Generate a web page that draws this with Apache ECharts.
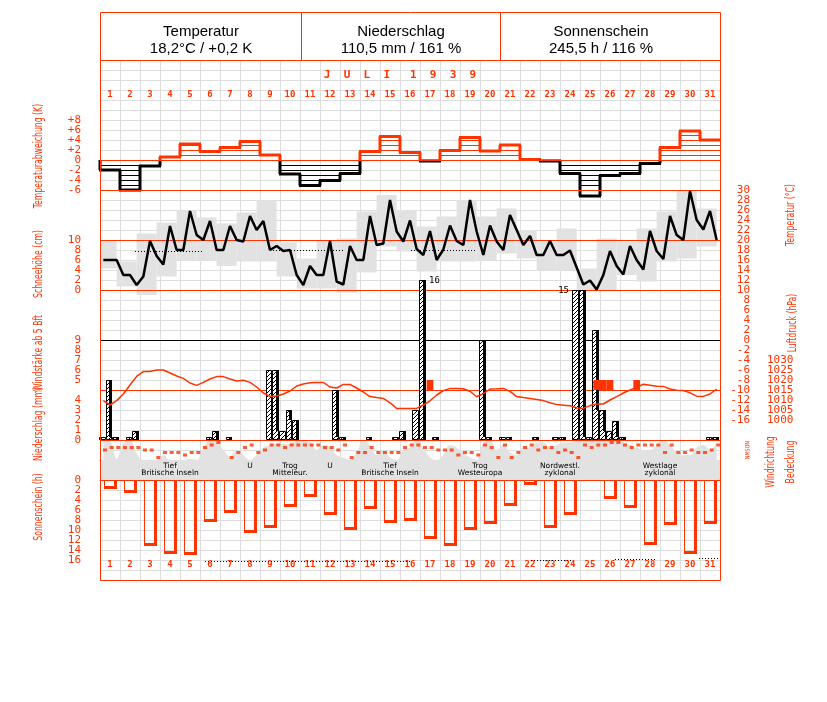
<!DOCTYPE html>
<html><head><meta charset="utf-8">
<script src="https://cdn.jsdelivr.net/npm/echarts@6/dist/echarts.min.js"></script>
<style>html,body{margin:0;padding:0;background:#fff}#c{width:827px;height:702px}</style>
</head><body><div id="c"></div>
<script>
// ---------------- DATA ----------------
const days = ['1','2','3','4','5','6','7','8','9','10','11','12','13','14','15','16','17','18','19','20','21','22','23','24','25','26','27','28','29','30','31'];
const headerTitles = ['Temperatur', 'Niederschlag', 'Sonnenschein'];
const headerValues = ['18,2°C / +0,2 K', '110,5 mm / 161 %', '245,5 h / 116 %'];
const monthLabel = 'J  U  L  I   1  9  3  9';

// daily temperature deviation (K)
const tempDeviation = [-2.0,-6.0,-1.2,0.6,3.2,1.7,2.5,3.7,1.0,-2.8,-5.1,-4.1,-2.7,1.7,4.7,1.5,-0.2,1.9,4.5,1.8,3.0,0.1,-0.2,-2.7,-7.2,-3.1,-2.7,-0.7,2.5,5.8,4.0];

// temperature at 3 observation times per day (°C)
const tempObs = [16,16,16, 13,13,11, 12.7,19.8,16.8, 15.1,22.8,18, 18,25.8,21, 20,23.8,18, 18,22.8,20, 19.7,24.8,22,
 23.8,18,18.8, 17.8,18,13, 11,14.8,13, 13,19.8,11.7, 11.1,18.8,16, 16,24.8,19, 19.3,28,21.7, 19.7,23.9,18.2,
 17,21.8,16, 18.1,22.9,19.8, 19,28,21.7, 17,22.9,19.7, 18,25,22, 19,20.8,17, 17,19.8,17, 17,17.9,14.5,
 11.1,11.9,10.1, 13,17.8,14.8, 13.1,18.8,16, 14.1,21.8,17.8, 16.2,24.8,21, 20,29.8,24, 22.1,25.8,20];
const tempMax = [20,15.7,21.3,23.5,25.9,24.5,23.3,25.5,27.9,19.5,16.3,20,20.3,25.7,29,26,22.7,24.7,28,24.7,26.3,22,19.7,22.3,14.3,20.3,19.7,22.3,25.7,30,26.3];
const tempMin = [14.3,10.7,9,12.7,15.9,15.9,14.8,15.7,15.7,12.7,10.3,10.3,9.5,13.5,18.7,17.7,13.7,15.7,15.7,16,17.3,16.3,14,14,10,10,13,11.7,15.7,16.3,18.7];
const tempRefStart = [1.75, 8.65, 15.55];
const tempRefEnd = [5.15, 12.15, 18.85];
const tempRefVal = [17.8, 18.0, 18.1];

// air pressure (hPa), 3 per day
const pressure = [1009.7,1007.5,1009.7,1013,1017.5,1021.8,1024.2,1024.3,1025,1025,
 1023.5,1022,1020.8,1018.5,1017.3,1018.8,1020.5,1021.7,1021.7,1020.5,
 1019.5,1019.9,1018.8,1016.5,1013.5,1011.8,1012,1013,1014.5,1017,
 1018,1018.6,1018.8,1018.8,1016.5,1016,1017.8,1017.8,1016,1014,
 1011.7,1011.2,1010.8,1008.6,1005.8,1005.8,1005.8,1005.8,1007.5,1009.6,
 1012.5,1014.7,1015.8,1015.8,1015.6,1014.4,1011.6,1013.2,1015.5,1015.6,
 1015.8,1014.3,1011.7,1011.2,1010.8,1010.3,1009.7,1008.6,1007.7,1007.4,
 1007.1,1006,1005.8,1007.2,1008,1008,1010,1011.7,1013.5,1015,
 1016.3,1017.9,1017.4,1016.9,1016.8,1015.5,1014.9,1014.7,1013.6,1011.9,
 1011.8,1013,1015.5];

// precipitation (mm), 3 per day
const precip = [0.3,6,0.3,0,0.3,0.9,0,0,0,0,
 0,0,0,0,0,0,0.3,0.9,0,0.3,
 0,0,0,0,0,7,7,0.9,3,2,
 0,0,0,0,0,5,0.3,0,0,0,
 0.3,0,0,0,0.3,0.9,0,3,16,0,
 0.3,0,0,0,0,0,0,10,0.3,0,
 0.3,0.3,0,0,0,0.3,0,0,0.3,0.3,
 0,15,15,0.3,11,3,0.9,1.9,0.3,0,
 0,0,0,0,0,0,0,0,0,0,
 0,0.3,0.3];
const precipNoteSlot = [48, 71];
const precipNoteText = ['16', '15'];
const precipNoteSide = ['right', 'left'];

// wind force >= 5 Bft
const windSlot = [49, 74, 75, 76, 80];
const windBft = [5, 5, 5, 5, 5];

// wind direction (degrees), 3 per day
const windDir = [180,225,225,225,225,225,180,180,45,135,135,135,90,135,135,225,270,315,null,45,
 135,225,270,135,180,270,270,225,270,270,270,270,270,225,225,180,270,45,135,135,
 225,135,135,135,135,225,270,270,225,225,180,180,180,90,135,135,90,270,225,45,
 270,45,135,225,270,180,225,225,135,180,135,45,270,225,270,270,315,315,270,225,
 270,270,270,270,135,270,135,135,180,135,135,180,270];

// cloud cover (octas), 3 per day
const cloud = [8,7.5,0.5,7,8,2.5,0,0,0,2,0,0,0,0.5,0,5,8,7.5,4,1.5,4,2,0,2,5,6,6.5,6.5,6.5,7.5,7.5,7,
 4,6,5,2,1,0,3,8,6,2,4,1,0,4,5,8,5,1,0,2,6,5,3,1,0,7,8,4,6,3,2,
 5,5,7,7,5,6,7,7,8,8,8,8,8,8,8,7,6,5,4,4,6,8,6,3,2,2,5,6,4,7];

// sunshine (h)
const sunshine = [1.7,2.5,13.2,14.7,14.9,8.3,6.5,10.5,9.5,5.3,3.3,6.9,10.0,5.7,8.5,8.2,11.7,13.1,9.9,8.7,5.2,0.9,9.5,6.9,0,3.7,5.5,13.0,8.9,14.8,8.7];
const sunMaxStart = [5.25, 21.55, 25.75, 29.95];
const sunMaxEnd = [15.5, 23.6, 27.8, 31];
const sunMaxVal = [16.2, 16.0, 15.8, 15.6];

// weather situations
const wxNames = ['Tief\nBritische Inseln','U\n ','Trog\nMitteleur.','U\n ','Tief\nBritische Inseln','Trog\nWesteuropa','Nordwestl.\nzyklonal','Westlage\nzyklonal'];
const wxFrom = [0, 7, 8, 11, 12, 17, 21, 25];
const wxTo = [7, 8, 11, 12, 17, 21, 25, 31];

// ---------------- STYLE ----------------
const RED = '#ff3300';
const GRIDC = '#dedede';
const GRAY = '#e2e2e2';
const MONO = "'DejaVu Sans Mono', monospace";
const NARROW = "'DejaVu Sans Condensed','DejaVu Sans',sans-serif";

const slotX = k => (k + 0.5) / 3;

function makeHatch(){
  const c = document.createElement('canvas'); c.width = 4; c.height = 4;
  const g = c.getContext('2d'); g.fillStyle = '#fff'; g.fillRect(0,0,4,4);
  g.fillStyle = '#000'; for (let i = 0; i < 4; i++) g.fillRect(3 - i, i, 1, 1);
  return c;
}
const hatch = { image: makeHatch(), repeat: 'repeat' };

function grid(top, height){ return { left: 100, width: 620, top: top, height: height }; }
function xAx(gi, o){ return Object.assign({ type: 'value', gridIndex: gi, min: 0, max: 31, axisLine: { show: false, onZero: false }, axisTick: { show: false }, axisLabel: { show: false }, splitLine: { show: false } }, o || {}); }
function yAx(gi, o){ return Object.assign({ type: 'value', gridIndex: gi, axisLine: { show: false, onZero: false }, axisTick: { show: false }, axisLabel: { show: false }, splitLine: { show: false } }, o || {}); }
// padded axes: the extreme (padding) labels are hidden, all real ticks are shown
function lbl(o){ return Object.assign({ show: true, color: RED, fontFamily: MONO, fontSize: 11, showMinLabel: false, showMaxLabel: false, hideOverlap: false }, o || {}); }

const chart = echarts.init(document.getElementById('c'));

function txt(text, x, y, font, fill, rot, extra){
  return Object.assign({ type: 'text', x: x, y: y, rotation: rot || 0, z: 100,
    style: { text: text, x: 0, y: 0, font: font, fill: fill, align: 'center', verticalAlign: 'middle', textAlign: 'center', textVerticalAlign: 'middle' } }, extra || {});
}
const TF = "13px " + NARROW;
const SQ = { scaleX: 0.66 };

const graphics = [
  { type: 'rect', z: 100, shape: { x: 100.5, y: 12.5, width: 620, height: 568 }, style: { fill: null, stroke: RED, lineWidth: 1 } },
  { type: 'line', z: 100, shape: { x1: 100, y1: 60.5, x2: 720, y2: 60.5 }, style: { stroke: RED, lineWidth: 1 } },
  { type: 'line', z: 100, shape: { x1: 301.5, y1: 12, x2: 301.5, y2: 60 }, style: { stroke: RED, lineWidth: 1 } },
  { type: 'line', z: 100, shape: { x1: 500.5, y1: 12, x2: 500.5, y2: 60 }, style: { stroke: RED, lineWidth: 1 } },
  txt(monthLabel, 400, 75, "bold 11px 'DejaVu Sans Mono', monospace", RED, 0),
  txt('Temperaturabweichung (K)', 39, 156, TF, RED, Math.PI/2, SQ),
  txt('Schneehöhe (cm)', 39, 264, TF, RED, Math.PI/2, SQ),
  txt('Windstärke ab 5 Bft', 39, 353, TF, RED, Math.PI/2, SQ),
  txt('Niederschlag (mm)', 39, 424, TF, RED, Math.PI/2, SQ),
  txt('Sonnenschein (h)', 39, 507, TF, RED, Math.PI/2, SQ),
  txt('Temperatur (°C)', 791, 215, TF, RED, Math.PI/2, SQ),
  txt('Luftdruck (hPa)', 793, 323, TF, RED, Math.PI/2, SQ),
  txt('Windrichtung', 771, 462, TF, RED, Math.PI/2, SQ),
  txt('Bedeckung', 791, 462, TF, RED, Math.PI/2, SQ),
  txt('NOSWN', 747, 450, "6px 'DejaVu Sans Mono', monospace", RED, -Math.PI/2)
];
const hdrX = [201, 401, 601];
headerTitles.forEach((t, i) => {
  graphics.push(txt(t, hdrX[i], 32, "15px 'Liberation Sans', Arial, sans-serif", '#000', 0));
  graphics.push(txt(headerValues[i], hdrX[i], 49, "15px 'Liberation Sans', Arial, sans-serif", '#000', 0));
});

const refLine = (xi, yi, items) => ({
  type: 'line', xAxisIndex: xi, yAxisIndex: yi, data: [], z: 3, silent: true,
  markLine: { silent: true, symbol: ['none','none'], label: { show: false }, animation: false,
    lineStyle: { color: RED, width: 1, type: 'solid' }, data: items }
});
const dayLabel = { interval: 0, margin: 5, verticalAlign: 'middle', color: RED, fontFamily: MONO, fontSize: 9, fontWeight: 'bold' };

const option = {
  animation: false,
  graphic: graphics,
  grid: [
    grid(60,520),   // 0 background grid
    grid(110,90),   // 1 deviation  (-8..10)
    grid(230,70),   // 2 snow       (-2..12)
    grid(180,250),  // 3 temperature (-18..32)
    grid(350,80),   // 4 pressure   (995..1035)
    grid(330,60),   // 5 wind force (4..10)
    grid(270,180),  // 6 precipitation (-1..17)
    grid(440,20),   // 7 wind direction
    grid(440,20),   // 8 cloud cover
    grid(460,20),   // 9 weather situation
    grid(470,100),  // 10 sunshine (-2..18, inverse)
    grid(80,10),    // 11 top day labels
    grid(550,10)    // 12 bottom day labels
  ],
  xAxis: [
    xAx(0, { interval: 1, splitLine: { show: true, lineStyle: { color: GRIDC, width: 1 } } }),
    xAx(1), xAx(2), xAx(3), xAx(4), xAx(5), xAx(6),
    xAx(7, { axisLine: { show: true, onZero: false, lineStyle: { color: RED, width: 1 } } }),
    xAx(8),
    xAx(9, { axisLine: { show: true, onZero: false, lineStyle: { color: RED, width: 1 } } }),
    xAx(10),
    { type: 'category', gridIndex: 11, data: days, position: 'bottom', axisLine: { show: false, onZero: false }, axisTick: { show: false }, splitLine: { show: false }, axisLabel: dayLabel },
    { type: 'category', gridIndex: 12, data: days, position: 'bottom', axisLine: { show: false, onZero: false }, axisTick: { show: false }, splitLine: { show: false }, axisLabel: dayLabel }
  ],
  yAxis: [
    yAx(0, { min: 0, max: 52, interval: 1, splitLine: { show: true, lineStyle: { color: GRIDC, width: 1 } } }),
    yAx(1, { min: -8, max: 10, interval: 2, axisLabel: lbl({ margin: 19, formatter: v => v > 0 ? '+' + v : '' + v }) }),
    yAx(2, { min: -2, max: 12, interval: 2, axisLabel: lbl({ margin: 19, formatter: v => '' + v }) }),
    yAx(3, { min: -18, max: 32, interval: 2, position: 'right', axisLabel: lbl({ margin: 30, align: 'right', formatter: v => '' + v }) }),
    yAx(4, { min: 995, max: 1035, interval: 5, position: 'right', axisLabel: lbl({ margin: 47, align: 'left', formatter: v => '' + v }) }),
    yAx(5, { min: 4, max: 10, interval: 1, axisLabel: lbl({ margin: 19, formatter: v => '' + v }) }),
    yAx(6, { min: -1, max: 17, interval: 1, axisLabel: lbl({ margin: 19, formatter: v => (v >= 0 && v <= 4) ? '' + v : '' }) }),
    yAx(7, { min: 0, max: 360 }),
    yAx(8, { min: 0, max: 8 }),
    yAx(9, { min: 0, max: 1 }),
    yAx(10, { min: -2, max: 18, interval: 2, inverse: true, axisLabel: lbl({ margin: 19, formatter: v => '' + v }) }),
    yAx(11, { min: 0, max: 1 }),
    yAx(12, { min: 0, max: 1 })
  ],
  series: [
    refLine(1, 1, [{ yAxis: 0 }, { yAxis: -6 }]),
    refLine(3, 3, [{ yAxis: 20 }, { yAxis: 10 }, { yAxis: -10 }, { yAxis: 0, lineStyle: { color: '#000', width: 1, type: 'solid' } }]),
    refLine(6, 6, [{ yAxis: 0 }]),
    { type: 'custom', xAxisIndex: 3, yAxisIndex: 3, z: 2, clip: true, silent: true,
      data: tempMax.map((v, i) => [i, tempMin[i], v]),
      renderItem: (params, api) => {
        const i = api.value(0);
        const p0 = api.coord([i - 1/6, api.value(2)]), p1 = api.coord([i + 5/6, api.value(1)]);
        return { type: 'rect', shape: { x: p0[0], y: p0[1], width: p1[0] - p0[0], height: p1[1] - p0[1] }, style: { fill: GRAY } };
      } },
    { type: 'custom', xAxisIndex: 3, yAxisIndex: 3, z: 4, silent: true,
      data: tempRefVal.map((v, i) => [tempRefStart[i], tempRefEnd[i], v]),
      renderItem: (params, api) => {
        const p0 = api.coord([api.value(0), api.value(2)]), p1 = api.coord([api.value(1), api.value(2)]);
        const y = Math.round(p0[1]) + 0.5;
        return { type: 'line', shape: { x1: p0[0], y1: y, x2: p1[0], y2: y }, style: { stroke: '#000', lineWidth: 1, lineDash: [1, 2] } };
      } },
    { type: 'line', xAxisIndex: 3, yAxisIndex: 3, z: 5, showSymbol: false, silent: true,
      data: tempObs.map((v, k) => [slotX(k), v]), lineStyle: { color: '#000', width: 2.5 } },
    { type: 'custom', xAxisIndex: 1, yAxisIndex: 1, z: 4, silent: true,
      data: tempDeviation.map((v, i) => [i, v]),
      renderItem: (params, api) => {
        const i = api.value(0), v = api.value(1);
        const prev = i > 0 ? tempDeviation[i - 1] : 0;
        const x0 = Math.round(api.coord([i, 0])[0]), x1 = Math.round(api.coord([i + 1, 0])[0]);
        const Y = t => api.coord([0, t])[1];
        const col = v >= 0 ? RED : '#000';
        const ch = [];
        const s = v >= 0 ? 1 : -1;
        for (let j = 0; j < Math.abs(v); j++) {
          const yy = Math.round(Y(s * j)) + 0.5;
          ch.push({ type: 'line', shape: { x1: x0, y1: yy, x2: x1, y2: yy }, style: { stroke: col, lineWidth: 1 } });
        }
        const yv = Y(v);
        ch.push({ type: 'line', shape: { x1: x0 - 1, y1: yv, x2: x1 + 1, y2: yv }, style: { stroke: col, lineWidth: 3 } });
        const seg = (a, b, c) => ch.push({ type: 'line', shape: { x1: x0, y1: Y(a), x2: x0, y2: Y(b) }, style: { stroke: c, lineWidth: 3 } });
        if ((prev >= 0) === (v >= 0)) seg(prev, v, col);
        else { seg(prev, 0, prev >= 0 ? RED : '#000'); seg(0, v, col); }
        return { type: 'group', children: ch };
      } },
    { type: 'line', xAxisIndex: 8, yAxisIndex: 8, z: 2, smooth: 0.4, showSymbol: false, silent: true,
      data: cloud.map((c, k) => [slotX(k), c]), lineStyle: { width: 0 }, areaStyle: { color: GRAY, opacity: 1 } },
    { type: 'scatter', xAxisIndex: 7, yAxisIndex: 7, z: 4, silent: true, symbol: 'rect', symbolSize: [4, 3],
      itemStyle: { color: RED }, data: windDir.map((d, k) => d == null ? null : [k / 3 + 0.25, d]).filter(p => p) },
    { type: 'custom', xAxisIndex: 6, yAxisIndex: 6, z: 5, silent: true,
      data: precip.map((v, k) => [k, v]),
      renderItem: (params, api) => {
        const k = api.value(0), v = api.value(1);
        if (!(v > 0)) return;
        const nxt = k + 1 < precip.length ? precip[k + 1] : 0;
        const xs = Math.round(api.coord([k / 3, 0])[0]) - 1;
        const xe = Math.round(api.coord([(k + 1) / 3, 0])[0]) - 1;
        const y0 = Math.round(api.coord([0, 0])[1]);
        const yv = Math.round(api.coord([0, v])[1]);
        const ch = [{ type: 'rect', shape: { x: xs + 0.5, y: yv + 0.5, width: xe - xs - 1, height: y0 - yv - 1 }, style: { fill: hatch, stroke: '#000', lineWidth: 1 } }];
        if (nxt < v) {
          const yn = Math.round(api.coord([0, nxt])[1]);
          ch.push({ type: 'rect', shape: { x: xe - 3, y: yv, width: 3, height: yn - yv }, style: { fill: '#000' } });
        }
        const ni = precipNoteSlot.indexOf(k);
        if (ni >= 0) {
          const right = precipNoteSide[ni] === 'right';
          ch.push({ type: 'text', style: { text: precipNoteText[ni], x: right ? xe + 3 : xs - 3, y: yv + 1, font: "9px 'DejaVu Sans Mono', monospace", fill: '#000',
            align: right ? 'left' : 'right', textAlign: right ? 'left' : 'right', verticalAlign: 'middle', textVerticalAlign: 'middle' } });
        }
        return { type: 'group', children: ch };
      } },
    { type: 'line', xAxisIndex: 4, yAxisIndex: 4, z: 6, showSymbol: false, silent: true,
      data: pressure.map((p, k) => [slotX(k), p]), lineStyle: { color: RED, width: 1.5 } },
    { type: 'custom', xAxisIndex: 5, yAxisIndex: 5, z: 7, silent: true,
      data: windSlot.map((s, i) => [s, windBft[i]]),
      renderItem: (params, api) => {
        const k = api.value(0), b = api.value(1);
        const p0 = api.coord([k / 3, b]), p1 = api.coord([(k + 1) / 3, 4]);
        return { type: 'rect', shape: { x: p0[0], y: p0[1], width: p1[0] - p0[0], height: p1[1] - p0[1] }, style: { fill: RED } };
      } },
    { type: 'custom', xAxisIndex: 9, yAxisIndex: 9, z: 3, silent: true,
      data: wxNames.map((n, i) => [wxFrom[i], wxTo[i]]),
      renderItem: (params, api) => {
        const i = params.dataIndex;
        const xa = api.coord([api.value(0), 0])[0], xb = api.coord([api.value(1), 0])[0];
        const yt = api.coord([0, 1])[1], yb = api.coord([0, 0])[1];
        const ch = [{ type: 'rect', shape: { x: xa, y: yt, width: xb - xa, height: yb - yt }, style: { fill: GRAY } }];
        if (api.value(1) < 31) ch.push({ type: 'line', shape: { x1: Math.round(xb) + 0.5, y1: yt, x2: Math.round(xb) + 0.5, y2: yb }, style: { stroke: RED, lineWidth: 1 } });
        ch.push({ type: 'text', style: { text: wxNames[i], x: (xa + xb) / 2, y: (yt + yb) / 2, font: "7.5px 'DejaVu Sans', sans-serif", lineHeight: 7, fill: '#000',
          align: 'center', textAlign: 'center', verticalAlign: 'middle', textVerticalAlign: 'middle' } });
        return { type: 'group', children: ch };
      } },
    { type: 'custom', xAxisIndex: 10, yAxisIndex: 10, z: 4, silent: true,
      data: sunshine.map((v, i) => [i, v]),
      renderItem: (params, api) => {
        const i = api.value(0), v = api.value(1);
        if (!(v > 0)) return;
        const x0 = Math.round(api.coord([i + 0.2, 0])[0]), x1 = Math.round(api.coord([i + 0.835, 0])[0]);
        const y0 = Math.round(api.coord([0, 0])[1]), y1 = Math.round(api.coord([0, v])[1]);
        return { type: 'group', children: [
          { type: 'rect', shape: { x: x0 + 0.5, y: y0 + 0.5, width: x1 - x0 - 1, height: y1 - y0 - 1 }, style: { fill: null, stroke: RED, lineWidth: 1 } },
          { type: 'rect', shape: { x: x1 - 3, y: y0, width: 3, height: y1 - y0 }, style: { fill: RED } },
          { type: 'rect', shape: { x: x0, y: y1 - 3, width: x1 - x0, height: 3 }, style: { fill: RED } }
        ] };
      } },
    { type: 'custom', xAxisIndex: 10, yAxisIndex: 10, z: 4, silent: true,
      data: sunMaxVal.map((v, i) => [sunMaxStart[i], sunMaxEnd[i], v]),
      renderItem: (params, api) => {
        const p0 = api.coord([api.value(0), api.value(2)]), p1 = api.coord([api.value(1), api.value(2)]);
        const y = Math.round(p0[1]) + 0.5;
        return { type: 'line', shape: { x1: p0[0], y1: y, x2: p1[0], y2: y }, style: { stroke: '#000', lineWidth: 1, lineDash: [1, 2] } };
      } }
  ]
};
chart.setOption(option);
</script></body></html>
